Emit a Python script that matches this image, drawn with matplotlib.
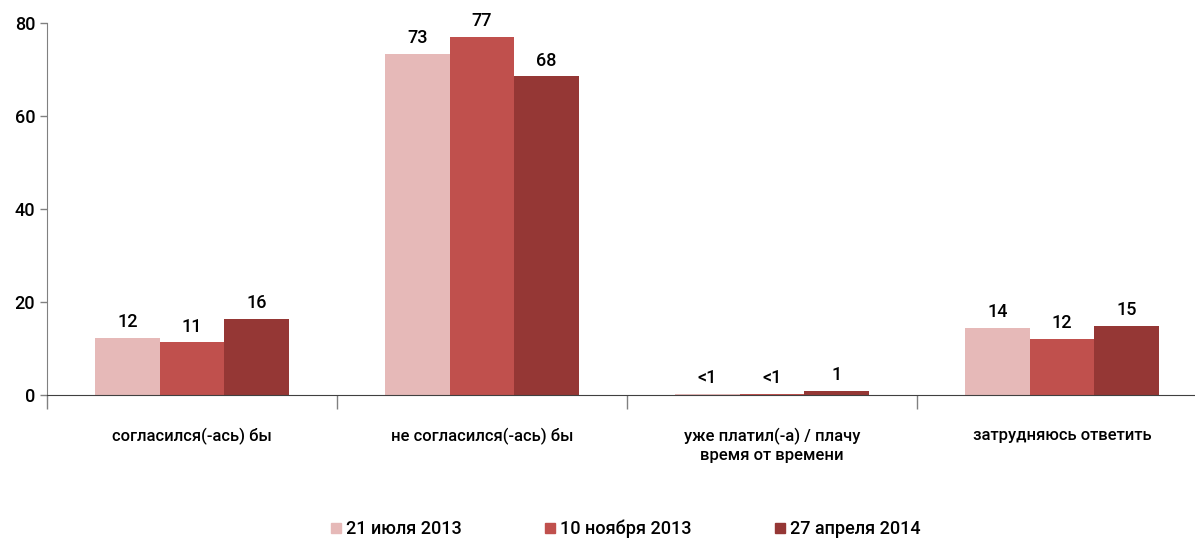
import matplotlib.pyplot as plt
import numpy as np
from matplotlib.lines import Line2D

plt.rcParams['font.family'] = ['Roboto', 'DejaVu Sans']
plt.rcParams['font.weight'] = 'medium'

categories = ['согласился(-ась) бы', 'не согласился(-ась) бы',
              'уже платил(-а) / плачу\nвремя от времени', 'затрудняюсь ответить']
series = ['21 июля 2013', '10 ноября 2013', '27 апреля 2014']
values = [
    [12.2, 73.4, 0.15, 14.4],
    [11.3, 76.9, 0.2, 12.0],
    [16.3, 68.5, 0.8, 14.8],
]
labels = [
    ['12', '73', '<1', '14'],
    ['11', '77', '<1', '12'],
    ['16', '68', '1', '15'],
]
colors = ['#E6B9B8', '#C0504D', '#953735']

fig = plt.figure(figsize=(11.95, 5.38), dpi=100)
ax = fig.add_axes([47 / 1195, 143 / 538, 1160 / 1195, 372 / 538])

x = np.arange(len(categories))
w = 0.223
for i, (vals, labs) in enumerate(zip(values, labels)):
    pos = x + (i - 1) * w
    ax.bar(pos, vals, width=w, color=colors[i], zorder=2)
    for p, v, t in zip(pos, vals, labs):
        ax.annotate(t, (p, v), xytext=(0, 5), textcoords='offset points',
                    ha='center', va='bottom', fontsize=13)

ax.set_xlim(-0.5, len(categories) - 0.5)
ax.set_ylim(0, 80)
ax.set_yticks([0, 20, 40, 60, 80])
ax.tick_params(axis='y', labelsize=13, length=5, color='#808080', width=1)
ax.set_xticks(x)
ax.set_xticklabels(categories, fontsize=12)
ax.tick_params(axis='x', length=0, pad=24)
ax.set_xticks(np.arange(len(categories)) - 0.5, minor=True)
ax.tick_params(axis='x', which='minor', length=10, color='#808080', width=1)

for s in ['top', 'right']:
    ax.spines[s].set_visible(False)
ax.spines['left'].set_color('#808080')
ax.spines['bottom'].set_color('#404040')

handles = [Line2D([], [], marker='s', linestyle='', markersize=7.5,
                  markerfacecolor=c, markeredgecolor=c) for c in colors]
fig.legend(handles, series, loc='lower center', ncol=3, frameon=False,
           fontsize=13, bbox_to_anchor=(0.523, -0.03), columnspacing=4.5,
           handlelength=0.8, handletextpad=0.15)

fig.savefig('out.png', dpi=100)
